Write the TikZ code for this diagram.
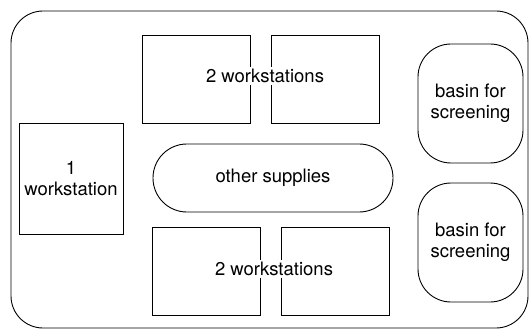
\documentclass[tikz,border=0pt]{standalone}
\usepackage{fontspec}
\setmainfont{TeX Gyre Heros}
\newcommand{\planfont}{\fontsize{18.5}{21}\selectfont}
\tikzset{
  room/.style={
    draw, rounded corners=32pt, line width=0.9pt
  },
  desk/.style={
    draw, rectangle, minimum height=88pt, minimum width=108pt, line width=0.9pt,
    inner sep=0pt
  },
  basin/.style={
    draw, rectangle, rounded corners=33pt, minimum height=119pt, minimum width=105pt,
    line width=0.9pt, align=center, font=\planfont
  },
  supply/.style={
    draw, rectangle, rounded corners=33.9pt, minimum height=68pt, minimum width=240pt,
    line width=0.9pt, font=\planfont
  },
  deskname/.style={
    fill=white, inner sep=2pt, align=center, font=\planfont
  }
}

\begin{document}
\begin{tikzpicture}[x=1pt, y=-1pt]
  \useasboundingbox (0, 0) rectangle (529, 331);
  \draw[room] (11, 11) rectangle (528, 328);

  % top pair of workstations
  \node[desk] (d1) at (196, 79) {};
  \node[desk] (d2) at (325, 79) {};
  \node[deskname] (d12) at (265, 76) {2 workstations};

  % single workstation on the left
  \node[desk, minimum width=104pt, minimum height=111pt, align=center, font=\planfont]
    (d0) at (71, 178.5) {1\\workstation};

  \node[supply] (sup) at (273, 178) {other supplies};

  % bottom pair of workstations
  \node[desk] (d3) at (206, 271) {};
  \node[desk] (d4) at (335, 271) {};
  \node[deskname] (d34) at (274, 269) {2 workstations};

  % basins
  \node[basin] (b1) at (470.5, 103.5) {basin for\\screening};
  \node[basin] (b2) at (470.5, 242.5) {basin for\\screening};
\end{tikzpicture}
\end{document}
